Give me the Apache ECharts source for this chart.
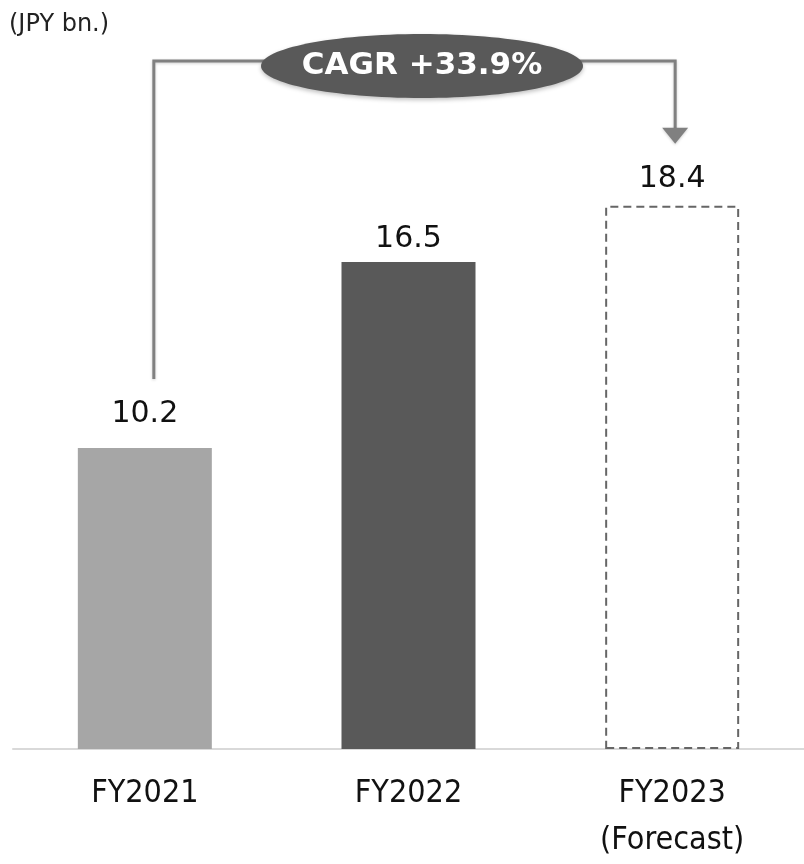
<!DOCTYPE html>
<html>
<head>
<meta charset="utf-8">
<script src="https://cdn.jsdelivr.net/npm/echarts@6/dist/echarts.min.js"></script>
<style>
  html, body { margin: 0; padding: 0; background: #fff; }
  #chart { width: 804px; height: 864px; }
</style>
</head>
<body>
<div id="chart"></div>
<script>
const categories = ['FY2021', 'FY2022', 'FY2023\n(Forecast)']
const values = [10.2, 16.5, 18.4]
const barColors = ['#a6a6a6', '#595959', '#ffffff']
const unitLabel = '(JPY bn.)'
const cagrLabel = 'CAGR +33.9%'

const chart = echarts.init(document.getElementById('chart'))

const labelGaps = [19, 8, 12]
const barData = values.map((v, i) => {
  const item = {
    value: v,
    itemStyle: { color: barColors[i] },
    label: { distance: labelGaps[i] }
  }
  if (i === values.length - 1) {
    item.itemStyle.borderColor = '#666666'
    item.itemStyle.borderWidth = 2
    item.itemStyle.borderType = [8, 5]
  }
  return item
})

chart.setOption({
  animation: false,
  grid: { left: 13, width: 797, top: 11, bottom: 107 },
  xAxis: {
    type: 'category',
    data: categories,
    axisLine: { show: true, lineStyle: { color: '#d9d9d9', width: 2 } },
    axisTick: { show: false },
    axisLabel: {
      color: '#111',
      fontFamily: 'DejaVu Sans Condensed, DejaVu Sans',
      fontSize: 32,
      lineHeight: 47,
      margin: 21
    }
  },
  yAxis: { type: 'value', min: 0, max: 25, show: false, splitLine: { show: false } },
  series: [{
    type: 'bar',
    data: barData,
    barWidth: 134,
    label: {
      show: true,
      position: 'top',
      color: '#111',
      fontFamily: 'DejaVu Sans',
      fontSize: 30,
      lineHeight: 30
    }
  }]
})

// connector from first bar to the forecast bar, through the CAGR ellipse
const p0 = chart.convertToPixel({ seriesIndex: 0 }, [0, values[0]])
const p2 = chart.convertToPixel({ seriesIndex: 0 }, [2, values[2]])
const lineY = 61
const leftX = p0[0] + 9
const rightX = p2[0] + 3
const lineStyle = {
  stroke: '#808080',
  lineWidth: 3,
  shadowBlur: 3,
  shadowColor: 'rgba(0,0,0,0.2)',
  shadowOffsetY: 1
}

chart.setOption({
  graphic: [
    {
      type: 'text',
      left: 9,
      top: 13,
      style: { text: unitLabel, fill: '#222', font: '24px DejaVu Sans' }
    },
    {
      type: 'polyline',
      shape: { points: [[leftX, p0[1] - 69], [leftX, lineY], [422, lineY]] },
      style: Object.assign({ fill: null }, lineStyle)
    },
    {
      type: 'polyline',
      shape: { points: [[422, lineY], [rightX, lineY], [rightX, p2[1] - 74]] },
      style: Object.assign({ fill: null }, lineStyle)
    },
    {
      type: 'polygon',
      shape: { points: [[rightX - 13, p2[1] - 78], [rightX + 13, p2[1] - 78], [rightX, p2[1] - 62]] },
      style: { fill: '#808080', shadowBlur: 3, shadowColor: 'rgba(0,0,0,0.2)', shadowOffsetY: 1 }
    },
    {
      type: 'ellipse',
      shape: { cx: 422, cy: 66, rx: 161, ry: 32 },
      style: { fill: '#595959', shadowBlur: 4, shadowColor: 'rgba(0,0,0,0.25)', shadowOffsetY: 2 }
    },
    {
      type: 'text',
      x: 422,
      y: 66,
      style: {
        text: cagrLabel,
        fill: '#ffffff',
        font: 'bold 31px DejaVu Sans',
        align: 'center',
        verticalAlign: 'middle'
      }
    }
  ]
})

window.addEventListener('resize', () => chart.resize())
</script>
</body>
</html>
